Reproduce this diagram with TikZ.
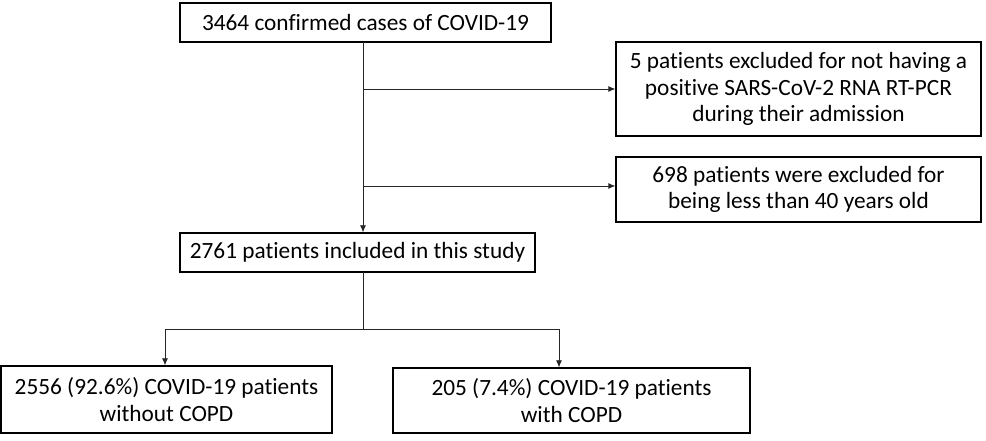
\documentclass[tikz,border=0pt]{standalone}
\usepackage{fontspec}
\setmainfont[Ligatures=NoCommon]{Carlito}
\usetikzlibrary{arrows.meta}
\begin{document}
\begin{tikzpicture}[x=1pt,y=1pt,
  box/.style={draw=black, line width=1.3pt, inner sep=0pt, align=center,
    font=\fontsize{23.3}{26.5}\selectfont},
  conn/.style={draw=black!85, line width=0.8pt},
  arr/.style={conn, -{Latex[length=7pt,width=6pt]}}]
\useasboundingbox (0,0) rectangle (986,441);
\node[box, minimum width=371pt, minimum height=39pt] (top) at (365.5,418.5) {3464 confirmed cases of COVID-19};
\node[box, minimum width=365pt, minimum height=94pt] (r1) at (798.5,352) {5 patients excluded for not having a\\positive SARS-CoV-2 RNA RT-PCR\\during their admission};
\node[box, minimum width=365pt, minimum height=65pt] (r2) at (798.5,251.5) {698 patients were excluded for\\being less than 40 years old};
\node[box, minimum width=355pt, minimum height=39pt] (mid) at (357.5,188.5) {2761 patients included in this study};
\node[box, minimum width=331pt, minimum height=67pt] (bl) at (166.5,41.5) {2556 (92.6\%) COVID-19 patients\\without COPD};
\node[box, minimum width=357pt, minimum height=65pt] (br) at (571.5,40.5) {205 (7.4\%) COVID-19 patients\\with COPD};
\coordinate (vt) at (363,399);
\coordinate (s1) at (363,352);
\coordinate (s2) at (363,255);
\coordinate (vm) at (363,169);
\coordinate (j) at (363,112);
\coordinate (jl) at (165,112);
\coordinate (jr) at (559,112);
\draw[arr] (vt) -- (vt |- mid.north);
\draw[arr] (s1) -- (r1.west |- s1);
\draw[arr] (s2) -- (r2.west |- s2);
\draw[conn] (vm) -- (j);
\draw[arr] (j) -- (jl) -- (jl |- bl.north);
\draw[arr] (j) -- (jr) -- (jr |- br.north);
\end{tikzpicture}
\end{document}
